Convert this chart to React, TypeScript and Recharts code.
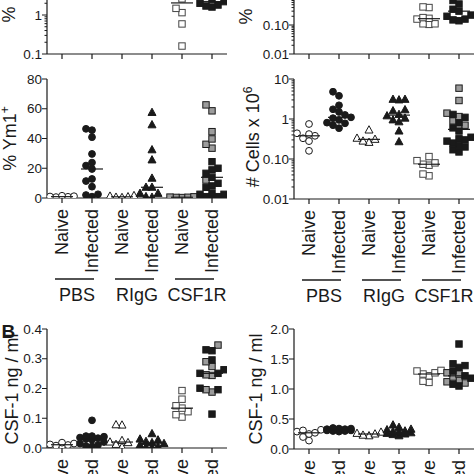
import React from 'react';
import { ScatterChart, Scatter, XAxis, YAxis } from 'recharts';

const FONT = '"Liberation Sans", Arial, Helvetica, sans-serif';
const INK = '#1a1a1a';

const groups = ['PBS', 'RIgG', 'CSF1R'];
const conditions = ['Naive', 'Infected'];
const categoryTicks = [1, 2, 3, 4, 5, 6];

// top-left (% ..., log) - only the CSF1R groups reach into the visible strip
const aTopCsfNaive = [0.16, 0.59, 1.15, 1.48, 2.6, 3.2, 4.0, 6.0];
const aTopCsfInfBlack = [1.6, 1.7, 1.8, 2.0, 2.2, 2.5, 3.0, 3.8, 5.0];

// top-right (% ..., log)
const bTopCsfNaive = [0.42, 0.4, 0.18, 0.17, 0.16, 0.11, 0.105, 0.11];
const bTopCsfInfBlack = [0.14, 0.15, 0.16, 0.2, 0.22, 0.3, 0.35, 0.53, 0.7, 1.0, 1.5];

// % Ym1+
const ym1PbsNaive = [1.5, 1.2, 1.0, 0.8, 0.6, 0.5];
const ym1PbsInf = [46.5, 45.6, 40.9, 29.6, 23.8, 21.8, 19.5, 12.8, 11.4, 7.6, 2.5, 2.0, 0.9];
const ym1RigNaive = [1.6, 1.2, 0.8, 0.5, 0.3];
const ym1RigInf = [57.5, 49.2, 32.4, 25.6, 13.3, 7.2, 7.2, 3.1, 3.1, 0.9, 0.5];
const ym1CsfNaive = [0.8, 0.6, 0.5, 0.4, 0.3];
const ym1CsfInfGrey = [62.6, 58.6, 44.6, 39.7, 36.1, 33.5, 12.1];
const ym1CsfInfBlack = [24.4, 20.0, 18.9, 16.6, 13.9, 9.9, 8.1, 7.2, 3.2, 2.5, 2.5, 0.9, 0.9, 0.5];

// # Cells x 10^6
const cellPbsNaive = [0.75, 0.44, 0.42, 0.38, 0.33, 0.28, 0.16];
const cellPbsInf = [4.8, 3.8, 2.2, 1.75, 1.5, 1.26, 1.1, 1.05, 0.95, 0.81, 0.78, 0.7, 0.59];
const cellRigNaive = [0.53, 0.33, 0.31, 0.28, 0.26];
const cellRigInf = [3.1, 3.1, 3.0, 1.7, 1.6, 1.3, 1.2, 1.05, 0.95, 0.85, 0.5, 0.27];
const cellCsfNaive = [0.115, 0.091, 0.08, 0.074, 0.07, 0.042, 0.038];
const cellCsfInfGrey = [5.9, 2.9, 1.4, 1.15, 0.9, 0.7];
const cellCsfInfBlack = [1.3, 1.1, 0.8, 0.6, 0.5, 0.35, 0.32, 0.3, 0.28, 0.25, 0.22, 0.2, 0.17, 0.15];

// B left: CSF-1 ng/ml
const serumPbsNaive = [0.018, 0.015, 0.012, 0.01, 0.008, 0.006];
const serumPbsInf = [0.093, 0.04, 0.04, 0.038, 0.035, 0.033, 0.03, 0.028, 0.02, 0.015, 0.01, 0.006, 0.005];
const serumRigNaive = [0.078, 0.077, 0.025, 0.02, 0.018, 0.012, 0.003];
const serumRigInf = [0.048, 0.03, 0.027, 0.022, 0.018, 0.015, 0.01, 0.005, 0.003, 0.002];
const serumCsfNaive = [0.193, 0.164, 0.142, 0.134, 0.122, 0.112, 0.104];
const serumCsfInfGrey = [0.346, 0.29, 0.274, 0.246, 0.244, 0.196, 0.188];
const serumCsfInfBlack = [0.33, 0.327, 0.296, 0.263, 0.251, 0.251, 0.201, 0.196, 0.114];

// B right: CSF-1 ng/ml
const fluidPbsNaive = [0.32, 0.31, 0.29, 0.27, 0.25, 0.2, 0.14];
const fluidPbsInf = [0.35, 0.34, 0.34, 0.33, 0.33, 0.32, 0.32, 0.31, 0.31, 0.3, 0.3, 0.29];
const fluidRigNaive = [0.28, 0.26, 0.25, 0.23, 0.22];
const fluidRigInf = [0.4, 0.36, 0.33, 0.32, 0.3, 0.29, 0.28, 0.27, 0.26, 0.25, 0.24, 0.22];
const fluidCsfNaive = [1.31, 1.3, 1.27, 1.25, 1.22, 1.13, 1.11];
const fluidCsfInfGrey = [1.27, 1.25, 1.2, 1.15, 1.12, 1.1];
const fluidCsfInfBlack = [1.75, 1.42, 1.39, 1.36, 1.3, 1.22, 1.18, 1.08, 1.05];

const decadeMinors = (from: number, to: number) => {
  const out: number[] = [];
  for (let d = from; d < to; d *= 10) for (let k = 2; k < 10; k++) out.push(+(d * k).toPrecision(3));
  return out;
};

const median = (vals: number[]) => {
  const s = [...vals].sort((a, b) => a - b);
  const m = Math.floor(s.length / 2);
  return s.length % 2 ? s[m] : (s[m - 1] + s[m]) / 2;
};

// simple dot-plot dodge so overlapping points spread sideways
function dodge(items: { v: number; cls: string }[], center: number, toPx: (v: number) => number) {
  const SLOT = 6;
  const SPACING = 30;
  const order = items.map((it, i) => ({ ...it, i, py: toPx(it.v) })).sort((a, b) => a.py - b.py);
  const placed: { s: number; py: number }[] = [];
  return order.map((p) => {
    let best = 0;
    let bestD = -1;
    for (const s of [0, -1, 1, -2, 2]) {
      let d = Infinity;
      for (const q of placed) d = Math.min(d, Math.hypot((q.s - s) * SLOT, q.py - p.py));
      if (d >= SLOT) { best = s; break; }
      if (d > bestD) { bestD = d; best = s; }
    }
    placed.push({ s: best, py: p.py });
    return { x: center + (best * SLOT) / SPACING, y: p.v, cls: p.cls };
  });
}

const markerShape = (cls: string) => (props: any) => {
  const { cx, cy } = props;
  if (cx == null || cy == null) return <g />;
  const open = cls.startsWith('open');
  const fill = open ? '#fff' : cls === 'greySq' ? '#9c9c9c' : INK;
  const stroke = cls === 'openSq' ? '#444' : INK;
  const kind = cls.toLowerCase();
  if (kind.endsWith('circle')) return <circle cx={cx} cy={cy} r={3.4} fill={fill} stroke={stroke} strokeWidth={1} />;
  if (kind.endsWith('tri'))
    return <polygon points={`${cx},${cy - 4.3} ${cx - 4},${cy + 3} ${cx + 4},${cy + 3}`} fill={fill} stroke={stroke} strokeWidth={1} />;
  return <rect x={cx - 3.2} y={cy - 3.2} width={6.4} height={6.4} fill={fill} stroke={stroke} strokeWidth={1} />;
};

const medianShape = (props: any) => {
  const { cx, cy } = props;
  if (cx == null || cy == null) return <g />;
  return <line x1={cx - 11} x2={cx + 11} y1={cy} y2={cy} stroke={INK} strokeWidth={1.2} />;
};

function XTick(props: any) {
  const { x, y, payload, index, labels } = props;
  const v = payload.value as number;
  return (
    <g>
      <line x1={x} x2={x} y1={y} y2={y + 5} stroke={INK} strokeWidth={1.2} />
      {labels && (
        <text transform={`translate(${x + 6},${y + 11}) rotate(-90)`} textAnchor="end" fontFamily={FONT} fontSize={18} fill={INK}>
          {conditions[(v - 1) % 2]}
        </text>
      )}
      {labels && index % 2 === 1 && (
        <g>
          <line x1={x - 37} x2={x + 2} y1={y + 81} y2={y + 81} stroke={INK} strokeWidth={1.3} />
          <text x={x - 15} y={y + 103} textAnchor="middle" fontFamily={FONT} fontSize={18} fill={INK}>
            {groups[(v - 2) / 2]}
          </text>
        </g>
      )}
    </g>
  );
}

function YTick(props: any) {
  const { x, y, payload, majors, fmt } = props;
  const v = payload.value as number;
  const major = majors.includes(v);
  return (
    <g>
      <line x1={x - (major ? 5 : 2.5)} x2={x} y1={y} y2={y} stroke={INK} strokeWidth={1} />
      {major && (
        <text x={x - 5} y={y} dy="0.35em" textAnchor="end" fontFamily={FONT} fontSize={13.5} fill={INK}>
          {fmt(v)}
        </text>
      )}
    </g>
  );
}

type Sets = { pbsN: number[]; pbsI: number[]; rigN: number[]; rigI: number[]; csfN: number[]; csfIG: number[]; csfIB: number[] };

function Panel(cfg: {
  left: number; top: number; width: number; height: number; mt: number; mr: number; yw: number; xh: number;
  log: boolean; domain: [number, number]; majors: number[]; minors?: number[]; fmt: (v: number) => string;
  title: React.ReactNode; labels: boolean; sets: Sets; naiveSq?: string;
}) {
  const { left, top, width, height, mt, mr, yw, xh, log, domain, majors, minors = [], fmt, title, labels, sets, naiveSq = 'openSq' } = cfg;
  const plotH = height - mt - xh;
  const [d0, d1] = domain;
  const toPx = log
    ? (v: number) => ((Math.log10(v) - Math.log10(d0)) / (Math.log10(d1) - Math.log10(d0))) * plotH
    : (v: number) => ((v - d0) / (d1 - d0)) * plotH;
  const tag = (cls: string) => (v: number) => ({ v, cls });
  const groupsData = [
    { center: 1, items: sets.pbsN.map(tag('openCircle')) },
    { center: 2, items: sets.pbsI.map(tag('circle')) },
    { center: 3, items: sets.rigN.map(tag('openTri')) },
    { center: 4, items: sets.rigI.map(tag('tri')) },
    { center: 5, items: sets.csfN.map(tag(naiveSq)) },
    { center: 6, items: [...sets.csfIG.map(tag('greySq')), ...sets.csfIB.map(tag('sq'))] },
  ];
  const points = groupsData.flatMap((g) => dodge(g.items, g.center, toPx));
  const medians = groupsData
    .filter((g) => g.items.length > 0)
    .map((g) => ({ x: g.center, y: median(g.items.map((i) => i.v)) }));
  const classes = ['openCircle', 'circle', 'openTri', 'tri', 'openSq', 'greySq', 'sq'].filter((c) => points.some((p) => p.cls === c));

  return (
    <div style={{ position: 'absolute', left, top }}>
      <ScatterChart width={width} height={height} margin={{ top: mt, right: mr, bottom: 0, left: 0 }}>
        <XAxis
          type="number"
          dataKey="x"
          domain={[0.5, 6.5]}
          ticks={categoryTicks}
          interval={0}
          allowDataOverflow
          height={xh}
          tickSize={0}
          tickMargin={0}
          tickLine={false}
          axisLine={{ stroke: INK, strokeWidth: 1.2 }}
          tick={(p: any) => <XTick {...p} labels={labels} />}
        />
        <YAxis
          type="number"
          dataKey="y"
          scale={log ? 'log' : 'linear'}
          domain={domain}
          allowDataOverflow
          ticks={[...majors, ...minors]}
          interval={0}
          width={yw}
          tickSize={0}
          tickMargin={0}
          tickLine={false}
          axisLine={{ stroke: INK, strokeWidth: 1.2 }}
          tick={(p: any) => <YTick {...p} majors={majors} fmt={fmt} />}
          label={{ content: () => title }}
        />
        {classes.map((c) => (
          <Scatter key={c} data={points.filter((p) => p.cls === c)} shape={markerShape(c)} isAnimationActive={false} />
        ))}
        <Scatter data={medians} shape={medianShape} isAnimationActive={false} />
      </ScatterChart>
    </div>
  );
}

const empty: number[] = [];
const rotText = (x: number, y: number, anchor: string, children: React.ReactNode) => (
  <text transform={`translate(${x},${y}) rotate(-90)`} textAnchor={anchor} fontFamily={FONT} fontSize={18} fill={INK}>
    {children}
  </text>
);

export default function App() {
  return (
    <div style={{ position: 'absolute', left: 0, top: 0, width: 474, height: 474, overflow: 'hidden', background: '#fff', fontFamily: FONT }}>
      <Panel
        left={0} top={-63.5} width={232} height={129} mt={0} mr={5} yw={47} xh={12}
        log domain={[0.1, 100]} majors={[0.1, 1]} minors={[...decadeMinors(0.1, 100), 10, 100]} fmt={(v) => String(v)}
        title={rotText(15, 85.5, 'start', '%')}
        labels={false}
        sets={{ pbsN: empty, pbsI: empty, rigN: empty, rigI: empty, csfN: aTopCsfNaive, csfIG: empty, csfIB: aTopCsfInfBlack }}
      />
      <Panel
        left={237} top={-33.5} width={237} height={99} mt={0} mr={0} yw={57} xh={12}
        log domain={[0.01, 10]} majors={[0.01, 0.1]} minors={[...decadeMinors(0.01, 10), 1, 10]}
        fmt={(v) => v.toFixed(2)}
        title={rotText(15, 57.5, 'start', '%')}
        labels={false}
        sets={{ pbsN: empty, pbsI: empty, rigN: empty, rigI: empty, csfN: bTopCsfNaive, csfIG: empty, csfIB: bTopCsfInfBlack }}
      />
      <Panel
        left={0} top={71} width={232} height={237} mt={8} mr={5} yw={47} xh={110}
        log={false} domain={[0, 80]} majors={[0, 20, 40, 60, 80]} fmt={(v) => String(v)}
        title={rotText(16, 67.5, 'middle', <>% Ym1<tspan dy={-7} fontSize={12}>+</tspan></>)}
        labels
        naiveSq="greySq"
        sets={{ pbsN: ym1PbsNaive, pbsI: ym1PbsInf, rigN: ym1RigNaive, rigI: ym1RigInf, csfN: ym1CsfNaive, csfIG: ym1CsfInfGrey, csfIB: ym1CsfInfBlack }}
      />
      <Panel
        left={237} top={71} width={237} height={238} mt={8} mr={0} yw={57} xh={110}
        log domain={[0.01, 10]} majors={[0.01, 0.1, 1, 10]} minors={decadeMinors(0.01, 10)}
        fmt={(v) => (v < 1 ? v.toFixed(2) : String(v))}
        title={rotText(22, 66, 'middle', <># Cells x 10<tspan dy={-7} fontSize={12}>6</tspan></>)}
        labels
        sets={{ pbsN: cellPbsNaive, pbsI: cellPbsInf, rigN: cellRigNaive, rigI: cellRigInf, csfN: cellCsfNaive, csfIG: cellCsfInfGrey, csfIB: cellCsfInfBlack }}
      />
      <Panel
        left={0} top={319} width={232} height={155} mt={10} mr={5} yw={47} xh={26}
        log={false} domain={[0, 0.4]} majors={[0, 0.1, 0.2, 0.3, 0.4]} fmt={(v) => v.toFixed(1)}
        title={
          <g>
            <text x={1.5} y={19} fontFamily={FONT} fontSize={19} fontWeight="bold" fill={INK}>B</text>
            {rotText(17.5, 70, 'middle', 'CSF-1 ng / ml')}
          </g>
        }
        labels
        sets={{ pbsN: serumPbsNaive, pbsI: serumPbsInf, rigN: serumRigNaive, rigI: serumRigInf, csfN: serumCsfNaive, csfIG: serumCsfInfGrey, csfIB: serumCsfInfBlack }}
      />
      <Panel
        left={237} top={319} width={237} height={155} mt={10} mr={0} yw={57} xh={25}
        log={false} domain={[0, 2]} majors={[0, 0.5, 1, 1.5, 2]} fmt={(v) => v.toFixed(1)}
        title={rotText(25, 70, 'middle', 'CSF-1 ng / ml')}
        labels
        sets={{ pbsN: fluidPbsNaive, pbsI: fluidPbsInf, rigN: fluidRigNaive, rigI: fluidRigInf, csfN: fluidCsfNaive, csfIG: fluidCsfInfGrey, csfIB: fluidCsfInfBlack }}
      />
    </div>
  );
}
